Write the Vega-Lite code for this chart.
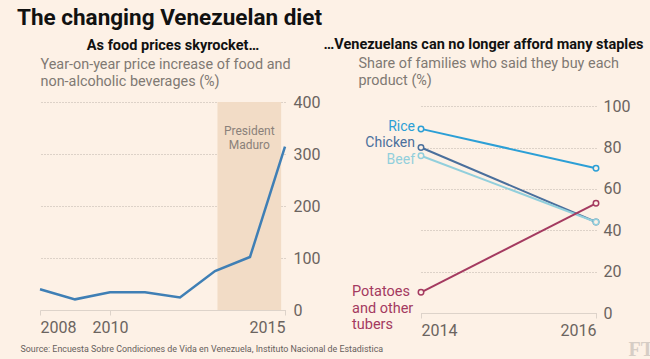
{
  "$schema": "https://vega.github.io/schema/vega-lite/v6.json",
  "background": "#fdf1e6",
  "padding": {"left": 17, "top": 7, "right": 0, "bottom": 0},
  "config": {
    "font": "Roboto",
    "view": {"stroke": null},
    "axis": {
      "labelFont": "Roboto",
      "labelColor": "#6b645f",
      "labelFontSize": 16,
      "gridColor": "#bdb3aa",
      "gridDash": [1, 2],
      "gridWidth": 1,
      "domainColor": "#ddd3ca",
      "tickColor": "#ddd3ca",
      "titleFont": "Roboto",
      "titleFontWeight": "normal",
      "titleColor": "#807973"
    }
  },
  "title": {
    "text": "The changing Venezuelan diet",
    "anchor": "start",
    "fontSize": 22.5,
    "fontWeight": "bold",
    "font": "Roboto",
    "color": "#111111",
    "dx": -3,
    "offset": 7
  },
  "bounds": "flush",
  "spacing": 136,
  "hconcat": [
    {
      "width": 245,
      "height": 208,
      "title": {
        "text": "As food prices skyrocket…",
        "fontSize": 14.5,
        "fontWeight": "bold",
        "color": "#111111",
        "anchor": "middle",
        "dx": 10.5,
        "offset": 3
      },
      "layer": [
        {
          "data": {"values": [{"start": 2013.07, "end": 2014.89}]},
          "mark": {"type": "rect", "color": "#f2dcc6"},
          "encoding": {
            "x": {"field": "start", "type": "quantitative"},
            "x2": {"field": "end"}
          }
        },
        {
          "data": {"values": [{"year": 2013.98, "value": 344, "label": "President\nMaduro"}]},
          "mark": {"type": "text", "lineBreak": "\n", "fontSize": 12, "color": "#8a817a", "align": "center", "baseline": "middle", "lineHeight": 14},
          "encoding": {
            "x": {"field": "year", "type": "quantitative"},
            "y": {"field": "value", "type": "quantitative"},
            "text": {"field": "label"}
          }
        },
        {
          "data": {
            "values": [
              {"year": 2008, "value": 40},
              {"year": 2009, "value": 20.5},
              {"year": 2010, "value": 34},
              {"year": 2011, "value": 34},
              {"year": 2012, "value": 24},
              {"year": 2013, "value": 75},
              {"year": 2014, "value": 102},
              {"year": 2015, "value": 314}
            ]
          },
          "mark": {"type": "line", "color": "#3f7fb5", "strokeWidth": 2.5},
          "encoding": {
            "x": {
              "field": "year",
              "type": "quantitative",
              "scale": {"domain": [2008, 2015], "nice": false, "zero": false},
              "axis": {
                "values": [2008, 2010, 2015],
                "format": "d",
                "grid": false,
                "tickSize": 5,
                "labelPadding": 4,
                "title": "Source: Encuesta Sobre Condiciones de Vida en Venezuela, Instituto Nacional de Estadistica",
                "titleFont": "Roboto",
                "titleFontSize": 8.9,
                "titleColor": "#66605c",
                "titleAlign": "left",
                "titleAnchor": "start",
                "titleBaseline": "alphabetic",
                "titleX": -20,
                "titleY": 41
              }
            },
            "y": {
              "field": "value",
              "type": "quantitative",
              "scale": {"domain": [0, 400], "nice": false},
              "axis": {
                "orient": "right",
                "values": [0, 100, 200, 300, 400],
                "domain": false,
                "ticks": false,
                "labelPadding": 8,
                "title": ["Year-on-year price increase of food and", "non-alcoholic beverages (%)"],
                "titleFontSize": 14.4,
                "titleAngle": 0,
                "titleAlign": "left",
                "titleBaseline": "alphabetic",
                "titleLineHeight": 17,
                "titleX": -245,
                "titleY": -34
              }
            }
          }
        }
      ]
    },
    {
      "width": 175,
      "height": 211,
      "title": {
        "text": "…Venezuelans can no longer afford many staples",
        "fontSize": 14.5,
        "fontWeight": "bold",
        "color": "#111111",
        "anchor": "middle",
        "dx": -25,
        "offset": 3
      },
      "data": {
        "values": [
          {"food": "Rice", "year": 2014, "share": 89},
          {"food": "Rice", "year": 2016, "share": 70},
          {"food": "Chicken", "year": 2014, "share": 80},
          {"food": "Chicken", "year": 2016, "share": 44},
          {"food": "Beef", "year": 2014, "share": 76},
          {"food": "Beef", "year": 2016, "share": 44},
          {"food": "Potatoes and other tubers", "year": 2014, "share": 10},
          {"food": "Potatoes and other tubers", "year": 2016, "share": 53}
        ]
      },
      "encoding": {
        "x": {
          "field": "year",
          "type": "quantitative",
          "scale": {"domain": [2014, 2016], "nice": false, "zero": false},
          "axis": {
            "values": [2014, 2016],
            "format": "d",
            "grid": false,
            "tickSize": 5,
            "labelPadding": 4,
            "title": "FT",
            "titleFont": "Liberation Serif",
            "titleFontSize": 20,
            "titleFontWeight": "bold",
            "titleColor": "#d6cdc5",
            "titleAlign": "left",
            "titleAnchor": "start",
            "titleBaseline": "alphabetic",
            "titleX": 207,
            "titleY": 42
          }
        },
        "y": {
          "field": "share",
          "type": "quantitative",
          "scale": {"domain": [0, 102], "nice": false},
          "axis": {
            "orient": "right",
            "values": [0, 20, 40, 60, 80, 100],
            "domain": false,
            "ticks": false,
            "labelPadding": 7,
            "title": ["Share of families who said they buy each", "product (%)"],
            "titleFontSize": 14.4,
            "titleAngle": 0,
            "titleAlign": "left",
            "titleBaseline": "alphabetic",
            "titleLineHeight": 17,
            "titleX": -238,
            "titleY": -35
          }
        },
        "color": {
          "field": "food",
          "type": "nominal",
          "scale": {
            "domain": ["Rice", "Chicken", "Beef", "Potatoes and other tubers"],
            "range": ["#2c9fd6", "#4a6f9c", "#92cfdc", "#a43a60"]
          },
          "legend": null
        }
      },
      "layer": [
        {
          "mark": {
            "type": "line",
            "strokeWidth": 2,
            "point": {"filled": false, "fill": "#fdf1e6", "size": 30, "strokeWidth": 1.5}
          },
          "encoding": {"detail": {"field": "food"}}
        },
        {
          "transform": [{"filter": "datum.year == 2014 && datum.food == 'Rice'"}],
          "mark": {"type": "text", "align": "right", "baseline": "middle", "dx": -6, "dy": -1.5, "fontSize": 14},
          "encoding": {"text": {"field": "food"}}
        },
        {
          "transform": [{"filter": "datum.year == 2014 && datum.food == 'Chicken'"}],
          "mark": {"type": "text", "align": "right", "baseline": "middle", "dx": -6, "dy": -5, "fontSize": 14},
          "encoding": {"text": {"field": "food"}}
        },
        {
          "transform": [{"filter": "datum.year == 2014 && datum.food == 'Beef'"}],
          "mark": {"type": "text", "align": "right", "baseline": "middle", "dx": -6, "dy": 4.5, "fontSize": 14},
          "encoding": {"text": {"field": "food"}}
        },
        {
          "transform": [{"filter": "datum.year == 2014 && datum.food == 'Potatoes and other tubers'"}],
          "mark": {"type": "text", "align": "left", "baseline": "middle", "dx": -69, "fontSize": 14.5, "lineBreak": "\n", "lineHeight": 16.5, "text": "Potatoes\nand other\ntubers"},
          "encoding": {}
        }
      ]
    }
  ]
}
